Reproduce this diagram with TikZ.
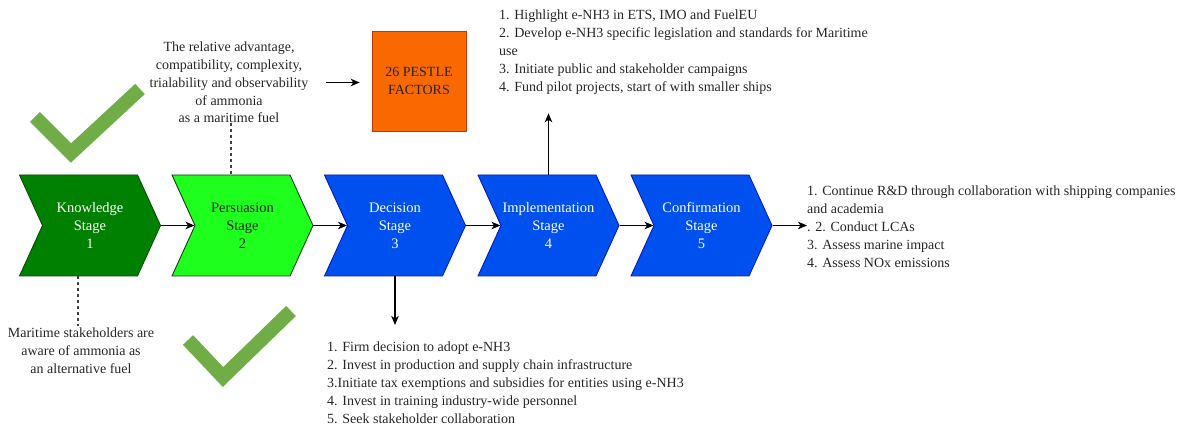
\documentclass[tikz,border=0pt]{standalone}
\usepackage{fontspec}
\setmainfont{Liberation Serif}
\usetikzlibrary{shapes.symbols,arrows.meta}
\definecolor{knowgreen}{RGB}{0,128,0}
\definecolor{knowedge}{RGB}{0,80,0}
\definecolor{persgreen}{RGB}{30,255,30}
\definecolor{persedge}{RGB}{20,60,20}
\definecolor{stageblue}{RGB}{0,80,239}
\definecolor{stageedge}{RGB}{0,29,188}
\definecolor{pestlefill}{RGB}{250,104,0}
\definecolor{pestleedge}{RGB}{199,53,0}
\definecolor{tickgreen}{RGB}{112,173,71}
\tikzset{
  stage/.style={signal, signal to=east, signal from=west, signal pointer angle=131,
    minimum width=141pt, minimum height=101pt, inner sep=0pt, line width=0.9pt,
    align=center, font=\fontsize{14.5}{18}\selectfont},
  note/.style={inner sep=0pt, font=\fontsize{14}{17.8}\selectfont, text=black!85},
  arr/.style={-{Stealth[length=9pt,width=7.5pt,inset=2.5pt]}, line width=1.1pt},
  guide/.style={dash pattern=on 3pt off 3pt, line width=1.2pt, black!75},
  tick/.style={line width=14pt, tickgreen, line join=miter, line cap=butt}
}
\begin{document}
\begin{tikzpicture}[x=1pt,y=-1pt]
\path[use as bounding box] (0,0) rectangle (1191,427);

% stage chevrons
\node[stage, fill=knowgreen, draw=knowedge, text=white] (k) at (90,225.5) {Knowledge\\Stage\\1};
\node[stage, fill=persgreen, draw=persedge, text=black!85] (p) at (242.5,225.5) {Persuasion\\Stage\\2};
\node[stage, fill=stageblue, draw=stageedge, text=white] (d) at (395,225.5) {Decision\\Stage\\3};
\node[stage, fill=stageblue, draw=stageedge, text=white] (i) at (548.5,225.5) {Implementation\\Stage\\4};
\node[stage, fill=stageblue, draw=stageedge, text=white] (c) at (701.5,225.5) {Confirmation\\Stage\\5};

\draw[arr] (k.east) -- (p.west);
\draw[arr] (p.east) -- (d.west);
\draw[arr] (d.east) -- (i.west);
\draw[arr] (i.east) -- (c.west);

% persuasion attributes and PESTLE factors
\node[note, align=center] (ptext) at (229,82.5)
  {The relative advantage,\\compatibility, complexity,\\trialability and observability\\of ammonia\\as a maritime fuel};
\node[draw=pestleedge, fill=pestlefill, line width=0.6pt, minimum width=94pt, minimum height=100pt,
  inner sep=0pt, align=center, font=\fontsize{14}{18}\selectfont, text=black!85] (pestle) at (419,81)
  {26 PESTLE\\FACTORS};
\draw[arr] ([xshift=17pt]ptext.east) -- ([xshift=-12pt]pestle.west |- ptext.east);
\draw[guide] (ptext.south -| 231,0) -- (p.north -| 231,0);

% knowledge note
\node[note, align=center] (ktext) at (81,351)
  {Maritime stakeholders are\\aware of ammonia as\\an alternative fuel};
\draw[guide] (k.south -| 78,0) -- ([yshift=2pt]ktext.north -| 78,0);

% decision actions
\node[note, align=left, anchor=north west] (dlist) at (327,342)
  {1. Firm decision to adopt e-NH3\\
   2. Invest in production and supply chain infrastructure\\
   3.Initiate tax exemptions and subsidies for entities using e-NH3\\
   4. Invest in training industry-wide personnel\\
   5. Seek stakeholder collaboration};
\draw[arr] (d.south) -- ([yshift=17pt]dlist.north -| d.south);

% implementation actions
\node[note, align=left, anchor=north west] (ilist) at (499,10)
  {1. Highlight e-NH3 in ETS, IMO and FuelEU\\
   2. Develop e-NH3 specific legislation and standards for Maritime\\
   use\\
   3. Initiate public and stakeholder campaigns\\
   4. Fund pilot projects, start of with smaller ships};
\draw[arr] (i.north) -- ([yshift=-19pt]ilist.south -| i.north);

% confirmation actions
\node[note, align=left, anchor=north west] (clist) at (807,186)
  {1. Continue R\&D through collaboration with shipping companies\\
   and academia\\
   . 2. Conduct LCAs\\
   3. Assess marine impact\\
   4. Assess NOx emissions};
\draw[arr] (c.east) -- (c.east -| clist.west);

% check marks
\draw[tick] (35,117) -- (71,153) -- (140,89);
\draw[tick] (188,340) -- (223,377) -- (291,311);
\end{tikzpicture}
\end{document}
